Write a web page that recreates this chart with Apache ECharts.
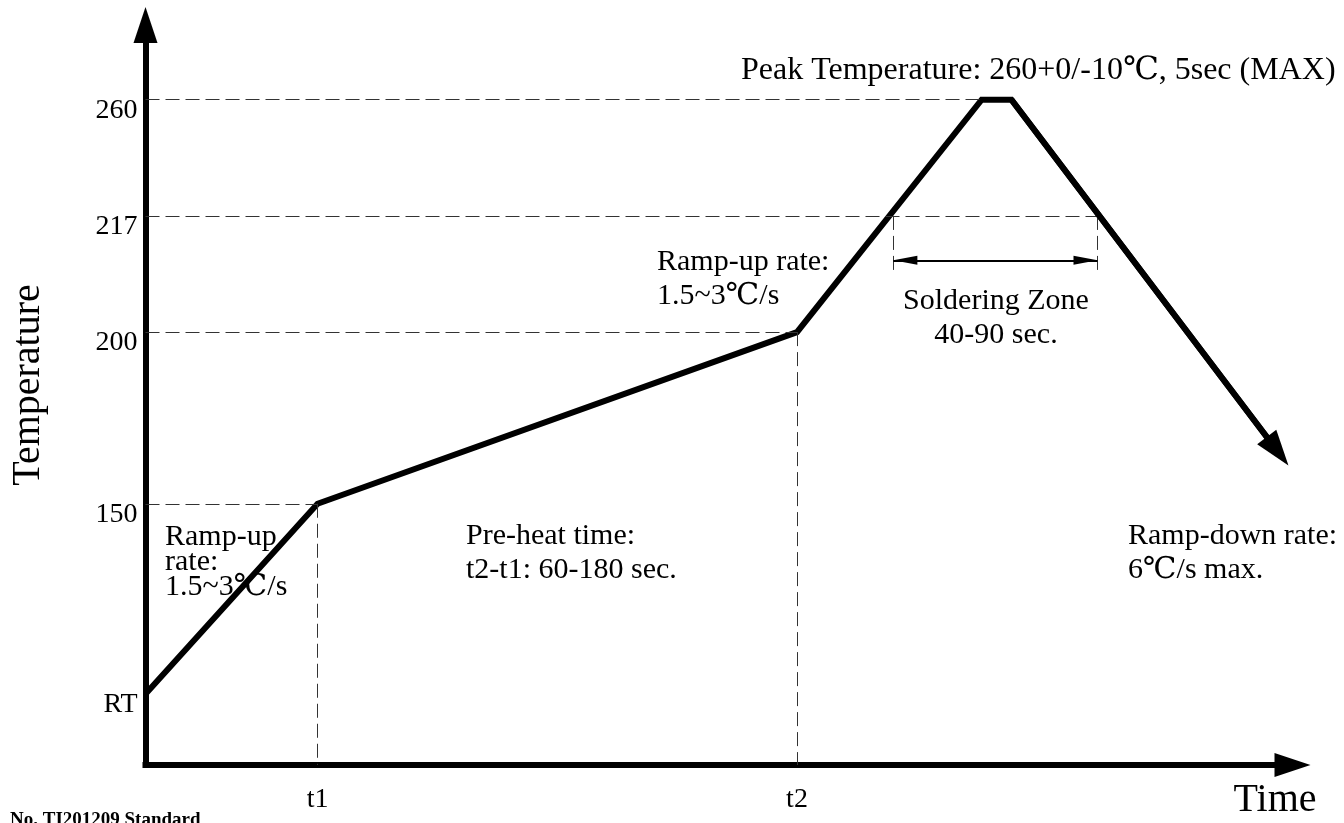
<!DOCTYPE html>
<html>
<head>
<meta charset="utf-8">
<script src="https://cdn.jsdelivr.net/npm/echarts@6.0.0/dist/echarts.min.js"></script>
<style>
html,body{margin:0;padding:0;background:#fff;}
#chart{width:1344px;height:823px;}
</style>
</head>
<body>
<div id="chart"></div>
<script>
// ---- data (schematic diagram: axes are not to scale) ----
const tempLabels = ['RT', '150', '200', '217', '260'];
const tempLevels = [9.6, 35.3, 58.5, 74.2, 89.9];      // schematic height of each temperature
const timeLabels = ['t1', 't2'];
const timeValues = [15.0, 56.8];                        // schematic time positions
const profileTime  = [0, 15.0, 56.8, 72.9, 75.5, 98.7];
const profileLevel = [9.6, 35.3, 58.5, 89.9, 89.9, 42.4];
const solderZone = [65.2, 83.0];                        // times where the profile crosses 217
const solderArrowLevel = 68.2;
const solderGuideBottom = 66.2;

const FONT = "'Liberation Serif', 'DejaVu Serif', 'Noto Sans CJK SC', serif";
const chart = echarts.init(document.getElementById('chart'));

const lvl = t => tempLevels[tempLabels.indexOf(t)];
const profile = profileTime.map((t, i) => [t, profileLevel[i]]);
const n = profile.length;

const dashed = [
  [[0, lvl('260')], [profileTime[3], lvl('260')]],
  [[0, lvl('217')], [solderZone[1], lvl('217')]],
  [[0, lvl('200')], [timeValues[1], lvl('200')]],
  [[0, lvl('150')], [timeValues[0], lvl('150')]],
  [[timeValues[0], lvl('150')], [timeValues[0], 0]],
  [[timeValues[1], lvl('200')], [timeValues[1], 0]],
  [[solderZone[0], lvl('217')], [solderZone[0], solderGuideBottom]],
  [[solderZone[1], lvl('217')], [solderZone[1], solderGuideBottom]]
].map(p => [{coord: p[0]}, {coord: p[1]}]);

const txt = (text, x, y, size, extra, el) => Object.assign({
  type: 'text', x: x, y: y, silent: true,
  style: Object.assign({text: text, font: size + 'px ' + FONT, fill: '#000',
    textAlign: 'left', textVerticalAlign: 'middle'}, extra || {})
}, el || {});

chart.setOption({
  animation: false,
  backgroundColor: '#fff',
  grid: {left: 145.5, top: 25, right: 51.5, bottom: 58, containLabel: false},
  xAxis: {
    type: 'value', min: 0, max: 100,
    splitLine: {show: false}, axisTick: {show: false},
    axisLine: {show: true, symbol: ['none', 'triangle'], symbolSize: [24, 36],
      lineStyle: {color: '#000', width: 6, cap: 'square'}},
    axisLabel: {customValues: timeValues, margin: 21, color: '#000', fontSize: 28,
      fontFamily: FONT, formatter: v => timeLabels[timeValues.indexOf(v)] || ''}
  },
  yAxis: {
    type: 'value', min: 0, max: 100,
    splitLine: {show: false}, axisTick: {show: false},
    axisLine: {show: true, symbol: ['none', 'triangle'], symbolSize: [24, 36],
      lineStyle: {color: '#000', width: 6, cap: 'square'}},
    axisLabel: {customValues: tempLevels, margin: 8, color: '#000', fontSize: 28,
      fontFamily: FONT, verticalAlign: 'top', padding: [-3, 0, 0, 0],
      formatter: v => tempLabels[tempLevels.indexOf(v)] || ''}
  },
  series: [
    {
      type: 'line', data: [], silent: true,
      markLine: {
        silent: true, symbol: ['none', 'none'], label: {show: false},
        lineStyle: {color: '#333', width: 1, type: [14, 6]},
        data: dashed
      }
    },
    {
      type: 'line', data: profile, symbol: 'none', silent: true,
      lineStyle: {color: '#000', width: 6, join: 'miter'},
      markLine: {
        silent: true, label: {show: false},
        data: [
          [{coord: profile[n - 2], symbol: 'none', lineStyle: {color: '#000', width: 6, type: 'solid'}},
           {coord: profile[n - 1], symbol: 'triangle', symbolSize: [24, 36]}],
          [{coord: [solderZone[0], solderArrowLevel], symbol: 'triangle', symbolSize: [9, 24], symbolOffset: [0, '50%'],
            lineStyle: {color: '#000', width: 2, type: 'solid'}},
           {coord: [solderZone[1], solderArrowLevel], symbol: 'triangle', symbolSize: [9, 24], symbolOffset: [0, '50%']}]
        ]
      }
    }
  ],
  graphic: [
    txt('Temperature', 28, 385, 40, {textAlign: 'center'}, {rotation: Math.PI / 2}),
    txt('Time', 1275, 800, 40, {textAlign: 'center'}),
    txt('Peak Temperature: 260+0/-10\u2103, 5sec (MAX)', 741, 71, 32),
    txt('Ramp-up rate:\n1.5~3\u2103/s', 657, 279, 30, {lineHeight: 34}),
    txt('Soldering Zone\n40-90 sec.', 996, 318, 30, {textAlign: 'center', lineHeight: 34}),
    txt('Ramp-up\nrate:\n1.5~3\u2103/s', 165, 562, 30, {lineHeight: 25}),
    txt('Pre-heat time:\nt2-t1: 60-180 sec.', 466, 553, 30, {lineHeight: 34}),
    txt('Ramp-down rate:\n6\u2103/s max.', 1128, 553, 30, {lineHeight: 34}),
    txt('No. TI201209 Standard', 10, 811, 19, {font: 'bold 19px ' + FONT, textVerticalAlign: 'top'})
  ]
});
</script>
</body>
</html>
